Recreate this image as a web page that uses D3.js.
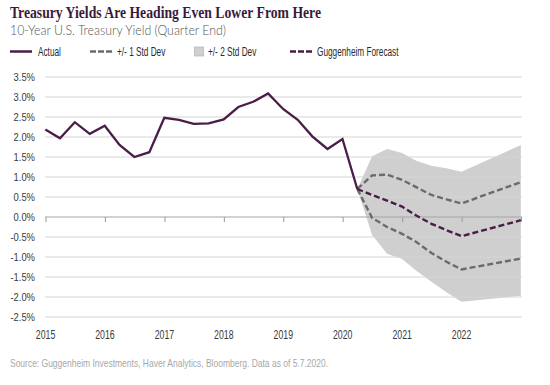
<!DOCTYPE html>
<html>
<head>
<meta charset="utf-8">
<script src="https://cdn.jsdelivr.net/npm/d3@7"></script>
<style>
  html, body { margin: 0; padding: 0; background: #fff; }
  svg { display: block; }
  .narrow { font-family: "Liberation Sans", Arial, sans-serif; }
</style>
</head>
<body>
<svg id="chart" width="550" height="385"></svg>
<script>
// ---- Data ----
const titleText = "Treasury Yields Are Heading Even Lower From Here";
const subtitleText = "10-Year U.S. Treasury Yield (Quarter End)";
const sourceText = "Source: Guggenheim Investments, Haver Analytics, Bloomberg. Data as of 5.7.2020.";

const legendLabels = ["Actual", "+/- 1 Std Dev", "+/- 2 Std Dev", "Guggenheim Forecast"];

const actualDates = [
  "2014-12-31","2015-03-31","2015-06-30","2015-09-30","2015-12-31",
  "2016-03-31","2016-06-30","2016-09-30","2016-12-31",
  "2017-03-31","2017-06-30","2017-09-30","2017-12-31",
  "2018-03-31","2018-06-30","2018-09-30","2018-12-31",
  "2019-03-31","2019-06-30","2019-09-30","2019-12-31",
  "2020-03-31"
];
const actualValues = [2.19, 1.97, 2.37, 2.08, 2.28, 1.80, 1.50, 1.62, 2.48, 2.43, 2.33, 2.34, 2.44,
  2.75, 2.88, 3.09, 2.70, 2.43, 2.01, 1.70, 1.95, 0.70];

const forecastDates = ["2020-03-31","2020-06-30","2020-09-30","2020-12-31",
  "2021-03-31","2021-06-30","2021-09-30","2021-12-31","2022-12-31"];
const forecastValues = [0.70, 0.55, 0.41, 0.26, 0.03, -0.17, -0.33, -0.48, -0.08];
const upper1Values   = [0.70, 1.04, 1.06, 0.93, 0.74, 0.55, 0.44, 0.34, 0.87];
const lower1Values   = [0.70, -0.02, -0.25, -0.42, -0.63, -0.90, -1.12, -1.31, -1.04];
const upper2Values   = [0.70, 1.52, 1.70, 1.60, 1.40, 1.28, 1.22, 1.13, 1.80];
const lower2Values   = [0.70, -0.45, -0.92, -1.05, -1.35, -1.62, -1.88, -2.12, -1.97];

const yTicks = [3.5, 3.0, 2.5, 2.0, 1.5, 1.0, 0.5, 0.0, -0.5, -1.0, -1.5, -2.0, -2.5];
const xTickYears = [2015, 2016, 2017, 2018, 2019, 2020, 2021, 2022, 2023];
const xLabelYears = [2015, 2016, 2017, 2018, 2019, 2020, 2021, 2022];

// ---- Setup ----
const parse = d3.timeParse("%Y-%m-%d");
const svg = d3.select("#chart");
const purple = "#4a1d47";
const grayDash = "#6b6b6b";
const bandFill = "#cfcfcf";

const plotLeft = 45, plotRight = 522;
const x = d3.scaleTime()
  .domain([new Date(2015, 0, 1), new Date(2023, 0, 1)])
  .range([45.5, 521]);
const y = d3.scaleLinear().domain([-2.5, 3.5]).range([317, 77]);

const actual = actualDates.map((d, i) => ({ date: parse(d), v: actualValues[i] }));
const fc = forecastDates.map((d, i) => ({
  date: parse(d), f: forecastValues[i], u1: upper1Values[i], l1: lower1Values[i],
  u2: upper2Values[i], l2: lower2Values[i]
}));

// condensed text helper
function ntext(g, tx, ty, str, size, sx, anchor, fill) {
  return g.append("text")
    .attr("class", "narrow")
    .attr("transform", `translate(${tx},${ty}) scale(${sx},1)`)
    .attr("font-size", size).attr("text-anchor", anchor || "start")
    .attr("fill", fill || "#333").text(str);
}

// ---- Title ----
svg.append("text").attr("x", 10).attr("y", 18)
  .attr("font-family", "'Liberation Serif', 'DejaVu Serif', serif")
  .attr("font-weight", "bold").attr("font-size", 16).attr("fill", "#3a1a3a")
  .attr("textLength", 311).attr("lengthAdjust", "spacingAndGlyphs")
  .text(titleText);
svg.append("text").attr("x", 10).attr("y", 34.5)
  .attr("font-family", "Lato, 'Open Sans', sans-serif")
  .attr("font-weight", 300).attr("font-size", 13).attr("fill", "#555")
  .attr("textLength", 216).attr("lengthAdjust", "spacingAndGlyphs")
  .text(subtitleText);

// ---- Legend ----
const legY = 51.5;
const leg = svg.append("g");
const legScale = 0.66, legSize = 12.5;
leg.append("line").attr("x1", 10).attr("x2", 32).attr("y1", legY).attr("y2", legY)
  .attr("stroke", purple).attr("stroke-width", 2.5);
ntext(leg, 38, legY + 4.5, legendLabels[0], legSize, legScale, "start", "#2a2a2a");
leg.append("line").attr("x1", 90).attr("x2", 112).attr("y1", legY).attr("y2", legY)
  .attr("stroke", grayDash).attr("stroke-width", 2.5).attr("stroke-dasharray", "6,2");
ntext(leg, 117, legY + 4.5, legendLabels[1], legSize, legScale, "start", "#2a2a2a");
leg.append("rect").attr("x", 194.5).attr("y", legY - 4.5).attr("width", 9).attr("height", 9)
  .attr("fill", bandFill).attr("stroke", "#b8b8b8").attr("stroke-width", 0.8);
ntext(leg, 208, legY + 4.5, legendLabels[2], legSize, legScale, "start", "#2a2a2a");
leg.append("line").attr("x1", 290).attr("x2", 312).attr("y1", legY).attr("y2", legY)
  .attr("stroke", purple).attr("stroke-width", 2.5).attr("stroke-dasharray", "6,2");
ntext(leg, 317, legY + 4.5, legendLabels[3], legSize, legScale, "start", "#2a2a2a");

// ---- Band (+/- 2 SD) ----
svg.append("path").datum(fc)
  .attr("fill", bandFill)
  .attr("d", d3.area().x(d => x(d.date)).y0(d => y(d.l2)).y1(d => y(d.u2)));

// ---- Grid lines ----
const fmt = v => (v < 0 ? "-" : "") + Math.abs(v).toFixed(1) + "%";
svg.append("g").selectAll("line").data(yTicks.filter(v => v !== 0)).join("line")
  .attr("x1", plotLeft).attr("x2", plotRight)
  .attr("y1", d => y(d)).attr("y2", d => y(d))
  .attr("stroke", "#d6d6d6").attr("stroke-width", 1.2);

// y labels
const yl = svg.append("g");
yTicks.forEach(v => ntext(yl, 35, y(v) + 4, fmt(v), 11.5, 0.82, "end", "#3a3a3a"));

// zero axis with ticks
const zeroAxis = d3.axisBottom(x)
  .tickValues(xTickYears.map(yr => new Date(yr, 0, 1)))
  .tickSize(5).tickSizeOuter(0).tickFormat("");
const zg = svg.append("g").attr("transform", `translate(0,${y(0)})`).call(zeroAxis);
zg.select(".domain").remove();
zg.selectAll(".tick line").attr("stroke", "#999");
svg.append("line").attr("x1", plotLeft).attr("x2", plotRight)
  .attr("y1", y(0)).attr("y2", y(0)).attr("stroke", "#a6a6a6").attr("stroke-width", 1.2);

// x labels
const xl = svg.append("g");
xLabelYears.forEach(yr => ntext(xl, x(new Date(yr, 0, 1)), 339, String(yr), 12, 0.73, "middle", "#3a3a3a"));

// ---- Lines ----
const dash = "6,3";
svg.append("path").datum(fc).attr("fill", "none")
  .attr("stroke", grayDash).attr("stroke-width", 2.4).attr("stroke-dasharray", dash)
  .attr("d", d3.line().x(d => x(d.date)).y(d => y(d.u1)));
svg.append("path").datum(fc).attr("fill", "none")
  .attr("stroke", grayDash).attr("stroke-width", 2.4).attr("stroke-dasharray", dash)
  .attr("d", d3.line().x(d => x(d.date)).y(d => y(d.l1)));
svg.append("path").datum(fc).attr("fill", "none")
  .attr("stroke", purple).attr("stroke-width", 2.4).attr("stroke-dasharray", dash)
  .attr("d", d3.line().x(d => x(d.date)).y(d => y(d.f)));
svg.append("path").datum(actual).attr("fill", "none")
  .attr("stroke", purple).attr("stroke-width", 2.3).attr("stroke-linejoin", "miter")
  .attr("d", d3.line().x(d => x(d.date)).y(d => y(d.v)));

// ---- Source ----
svg.append("text").attr("class", "narrow").attr("x", 10).attr("y", 367)
  .attr("font-size", 11).attr("fill", "#a8a8a8")
  .attr("textLength", 318).attr("lengthAdjust", "spacingAndGlyphs")
  .text(sourceText);
</script>
</body>
</html>
